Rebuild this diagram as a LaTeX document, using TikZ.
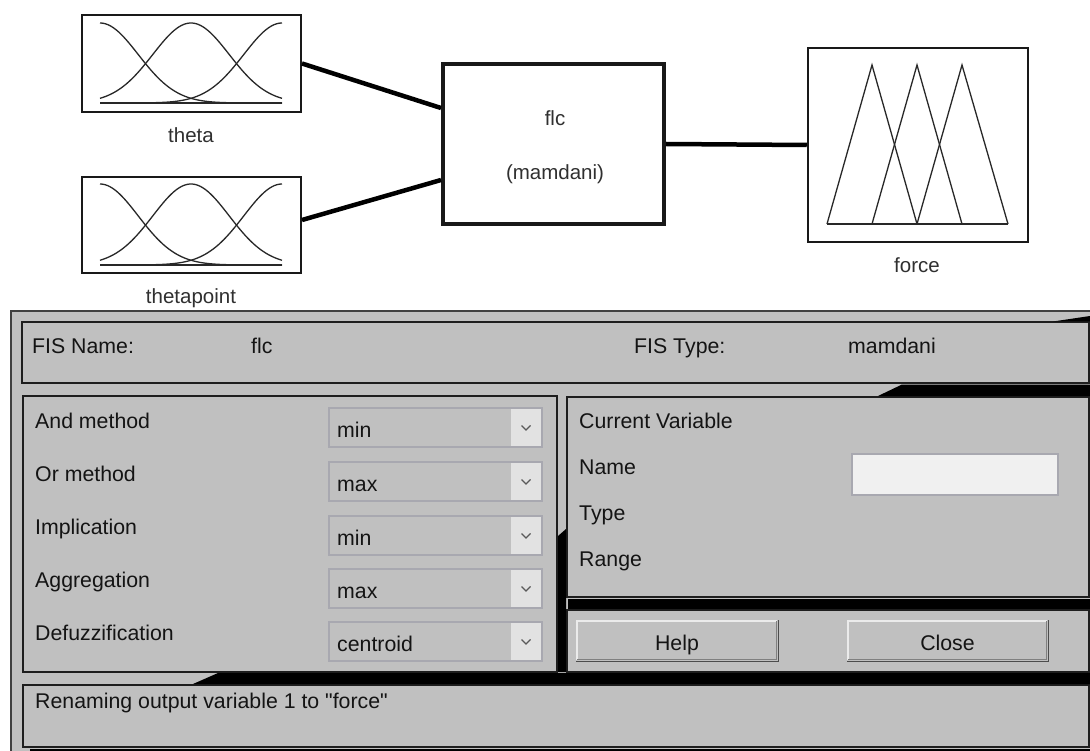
\documentclass[tikz,border=0pt]{standalone}
\usepackage{fontspec}
\setmainfont{Liberation Sans}[Ligatures=TeXOff]
\definecolor{pgray}{RGB}{192,192,192}
\definecolor{pline}{RGB}{30,30,30}
\definecolor{ddborder}{RGB}{168,168,176}
\definecolor{ddarrow}{RGB}{226,226,226}
\definecolor{editfill}{RGB}{240,240,240}
\definecolor{txt}{RGB}{20,20,20}
\definecolor{boxc}{RGB}{25,25,25}
\definecolor{mfc}{RGB}{40,40,40}
\begin{document}
\begin{tikzpicture}[x=1pt,y=-1pt,
  toplbl/.style={font=\fontsize{20.5}{24}\selectfont, text=txt!88!white, inner sep=0pt},
  ptxt/.style={font=\fontsize{21.3}{25}\selectfont, text=txt, inner sep=0pt},
  mfbox/.style={draw=boxc, fill=white, line width=2pt, inner sep=0pt},
  conn/.style={draw=black, line width=4.5pt},
  mfline/.style={draw=mfc, line width=1.3pt},
  pnl/.style={draw=pline, fill=pgray, line width=1.4pt},
  shadowband/.style={fill=black},
  dropbox/.style={draw=ddborder, fill=pgray, line width=1.2pt},
  droparrow/.style={fill=ddarrow},
  chev/.style={draw=black!65, line width=1.1pt},
  editbox/.style={draw=ddborder, fill=editfill, line width=1.2pt},
  btnface/.style={fill=pgray},
  btnlight/.style={draw=white!92!black, line width=1.6pt},
  btndark/.style={draw=black!50, line width=1.6pt},
  btnouter/.style={draw=black!70, line width=0.8pt}
]
\useasboundingbox (0,0) rectangle (1090,751);
\fill[white] (0,0) rectangle (1090,751);

% ---------------- top diagram ----------------
\node[mfbox, minimum width=219pt, minimum height=97pt] (theta) at (191.5,63.5) {};
\node[mfbox, minimum width=219pt, minimum height=96pt] (tp) at (191.5,225) {};
\node[mfbox, line width=4pt, minimum width=221pt, minimum height=160pt] (flc) at (553.5,144) {};
\node[mfbox, line width=2.5pt, minimum width=220pt, minimum height=194pt] (force) at (918,145) {};

% gaussian membership functions
\foreach \c in {100,191,282} {
  \draw[mfline] plot[domain=100:282, samples=70, smooth] (\x, {103-80*exp(-((\x-\c)/10)*((\x-\c)/10)/29.18)});
  \draw[mfline] plot[domain=100:282, samples=70, smooth] (\x, {265-81*exp(-((\x-\c)/10)*((\x-\c)/10)/29.18)});
}
\draw[mfline] (100,103) -- (282,103);
\draw[mfline] (100,265) -- (282,265);

% triangular membership functions
\draw[mfline] (827,224) -- (872,65) -- (917,224);
\draw[mfline] (872,224) -- (917,65) -- (962,224);
\draw[mfline] (917,224) -- (962,65) -- (1008,224);
\draw[mfline] (827,224) -- (1008,224);

% connectors
\draw[conn] (theta.east) -- ([yshift=36pt]flc.west);
\draw[conn] ([yshift=5pt]tp.east) -- ([yshift=-36pt]flc.west);
\draw[conn] (flc.east) -- (force.west);

% labels
\node[toplbl, anchor=base] (thetalbl) at (191,143) {theta};
\node[toplbl, anchor=base] (tplbl) at (191,304) {thetapoint};
\node[toplbl, anchor=base] (forcelbl) at (917,273) {force};
\node[toplbl, anchor=base] (flcname) at (555,126) {flc};
\node[toplbl, anchor=base] (flctype) at (555,180) {(mamdani)};

% ---------------- bottom panel ----------------
\fill[pgray] (11,311) rectangle (1095,760);
\draw[draw=black!75, line width=1.6pt] (11,760) -- (11,311) -- (1095,311);

\draw[pnl] (22,322) rectangle (1089,383);
\draw[pnl] (23,396) rectangle (557,672);
\draw[pnl] (567,397) rectangle (1089,597);
\draw[pnl] (567,610) rectangle (1089,672);
\draw[pnl] (23,685) rectangle (1089,747);

% black shadow bands
\fill[shadowband] (1053,321.5) -- (1090,316) -- (1090,321.5) -- cycle;
\fill[shadowband] (878,396) -- (902,384.5) -- (1090,384.5) -- (1090,396) -- cycle;
\fill[shadowband] (558,536) -- (566,529) -- (566,672) -- (558,672) -- cycle;
\fill[shadowband] (568,598.5) rectangle (1090,609);
\fill[shadowband] (193,684) -- (218,673) -- (1090,673) -- (1090,684) -- cycle;
\fill[shadowband] (30,749) rectangle (1090,752);

% FIS name / type row
\node[ptxt, anchor=base west] (fisname) at (32,353) {FIS Name:};
\node[ptxt, anchor=base west] (fisnameval) at (251,353) {flc};
\node[ptxt, anchor=base west] (fistype) at (634,353) {FIS Type:};
\node[ptxt, anchor=base west] (fistypeval) at (848,353) {mamdani};

% method labels
\node[ptxt, anchor=base west] (andlbl) at (35,428) {And method};
\node[ptxt, anchor=base west] (orlbl) at (35,481) {Or method};
\node[ptxt, anchor=base west] (implbl) at (35,534) {Implication};
\node[ptxt, anchor=base west] (agglbl) at (35,587) {Aggregation};
\node[ptxt, anchor=base west] (defzlbl) at (35,640) {Defuzzification};

% dropdowns
\foreach \t/\v/\n in {408/min/dda, 462/max/ddb, 516/min/ddc, 569/max/ddd, 622/centroid/dde} {
  \draw[dropbox] (329,\t) rectangle (542,\t+39);
  \fill[droparrow] (511,\t+1) rectangle (541.4,\t+38);
  \draw[chev] (521.5,\t+17.5) -- (526,\t+22) -- (530.5,\t+17.5);
  \node[ptxt, anchor=base west] (\n) at (337,\t+29) {\v};
}

% current variable
\node[ptxt, anchor=base west] (curvar) at (579,428) {Current Variable};
\node[ptxt, anchor=base west] (namelbl) at (579,474) {Name};
\node[ptxt, anchor=base west] (typelbl) at (579,520) {Type};
\node[ptxt, anchor=base west] (rangelbl) at (579,566) {Range};
\draw[editbox] (852,454) rectangle (1058,495);

% buttons
\foreach \a/\b/\n/\l in {576/778/helpbtn/Help, 847/1048/closebtn/Close} {
  \fill[btnface] (\a,620) rectangle (\b,661);
  \draw[btnlight] (\a+1,660) -- (\a+1,621) -- (\b-1,621);
  \draw[btndark] (\a+1,659.5) -- (\b-1.5,659.5) -- (\b-1.5,621);
  \draw[btnouter] (\a,661) -- (\b,661) -- (\b,620);
  \node[ptxt, anchor=base] (\n) at ({(\a+\b)/2},650) {\l};
}

% status
\node[ptxt, anchor=base west] (status) at (35,708) {Renaming output variable 1 to "force"};
\end{tikzpicture}
\end{document}
